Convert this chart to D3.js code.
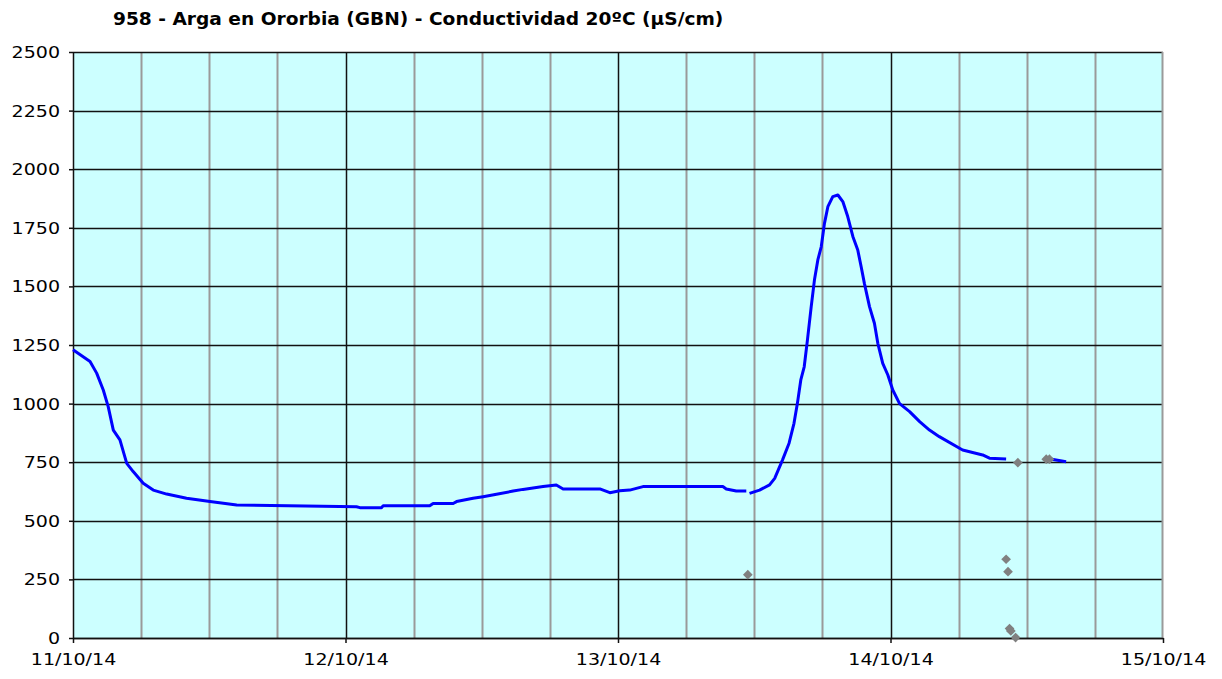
<!DOCTYPE html>
<html>
<head>
<meta charset="utf-8">
<script src="https://cdn.jsdelivr.net/npm/d3@7"></script>
<style>
  body { margin: 0; background: #fff; }
  text { font-family: "DejaVu Sans", Verdana, sans-serif; fill: #000; }
</style>
</head>
<body>
<div id="chart"></div>
<script>
// conductivity series, null = gap in the record
const lineTimes = [
  "2014-10-11 00:00", "2014-10-11 01:30", "2014-10-11 02:05", "2014-10-11 02:40", "2014-10-11 03:06",
  "2014-10-11 03:33", "2014-10-11 04:08", "2014-10-11 04:44", "2014-10-11 05:18", "2014-10-11 06:11",
  "2014-10-11 07:04", "2014-10-11 08:15", "2014-10-11 10:00", "2014-10-11 12:04", "2014-10-11 14:25",
  "2014-10-12 00:58", "2014-10-12 01:16", "2014-10-12 03:10", "2014-10-12 03:19", "2014-10-12 07:25",
  "2014-10-12 07:43", "2014-10-12 09:29", "2014-10-12 09:47", "2014-10-12 11:14", "2014-10-12 12:07",
  "2014-10-12 13:18", "2014-10-12 14:46", "2014-10-12 15:38", "2014-10-12 17:24", "2014-10-12 18:34",
  "2014-10-12 19:10", "2014-10-12 22:24", "2014-10-12 23:17", "2014-10-13 00:09", "2014-10-13 01:02",
  "2014-10-13 02:12", "2014-10-13 09:14", "2014-10-13 09:32", "2014-10-13 10:25", "2014-10-13 11:18",
  "2014-10-13 11:26",
  "2014-10-13 11:35", "2014-10-13 12:28", "2014-10-13 13:21", "2014-10-13 13:48", "2014-10-13 14:29",
  "2014-10-13 15:04", "2014-10-13 15:30", "2014-10-13 15:48", "2014-10-13 16:06", "2014-10-13 16:24",
  "2014-10-13 16:41", "2014-10-13 17:01", "2014-10-13 17:18", "2014-10-13 17:36", "2014-10-13 17:54",
  "2014-10-13 18:11", "2014-10-13 18:29", "2014-10-13 18:55", "2014-10-13 19:22", "2014-10-13 19:48",
  "2014-10-13 20:14", "2014-10-13 20:41", "2014-10-13 21:07", "2014-10-13 21:25", "2014-10-13 21:42",
  "2014-10-13 22:09", "2014-10-13 22:35", "2014-10-13 22:53", "2014-10-13 23:19", "2014-10-13 23:46",
  "2014-10-14 00:12", "2014-10-14 00:48", "2014-10-14 01:41", "2014-10-14 02:34", "2014-10-14 03:26",
  "2014-10-14 04:18", "2014-10-14 06:21", "2014-10-14 08:07", "2014-10-14 08:43", "2014-10-14 10:11",
  "2014-10-14 12:00",
  "2014-10-14 13:43", "2014-10-14 15:28"
];
const lineValues = [
  1230, 1180, 1130, 1058, 987,
  887, 845, 745, 710, 660,
  631, 614, 596, 582, 567,
  560, 556, 556, 564, 564,
  574, 574, 582, 596, 603,
  613, 627, 634, 646, 653,
  636, 636, 620, 628, 631,
  646, 646, 636, 627, 627,
  null,
  617, 631, 653, 681, 759,
  831, 916, 1001, 1101, 1157,
  1271, 1414, 1527, 1613, 1669,
  1769, 1840, 1883, 1890, 1862,
  1798, 1713, 1655, 1584, 1513,
  1414, 1343, 1257, 1172, 1122,
  1058, 1000, 966, 923, 887,
  859, 802, 781, 767, 764,
  null,
  767, 752
];

// isolated readings (grey diamonds)
const pointTimes = [
  "2014-10-13 11:26", "2014-10-14 10:11", "2014-10-14 10:21", "2014-10-14 10:29",
  "2014-10-14 10:36", "2014-10-14 11:01", "2014-10-14 11:13", "2014-10-14 13:43", "2014-10-14 14:00"
];
const pointValues = [270, 336, 283, 40, 30, 2, 748, 763, 763];

const yTicks = [0, 250, 500, 750, 1000, 1250, 1500, 1750, 2000, 2250, 2500];
const dayTicks = ["2014-10-11", "2014-10-12", "2014-10-13", "2014-10-14", "2014-10-15"];

const parseTime = d3.timeParse("%Y-%m-%d %H:%M");
const parseDay = d3.timeParse("%Y-%m-%d");

const width = 1222;
const height = 679;
const margin = { top: 52, right: 59, bottom: 41, left: 73 };
const innerWidth = width - margin.left - margin.right;
const innerHeight = height - margin.top - margin.bottom;
const stretchX = 1.27;

const svg = d3.select("#chart")
  .append("svg")
  .attr("width", width)
  .attr("height", height);

const days = dayTicks.map(parseDay);

const xScale = d3.scaleTime()
  .domain([days[0], days[days.length - 1]])
  .range([0, innerWidth]);

const yScale = d3.scaleLinear()
  .domain([0, 2500])
  .range([innerHeight, 0]);

const chart = svg.append("g")
  .attr("transform", `translate(${margin.left}, ${margin.top})`);

chart.append("rect")
  .attr("width", innerWidth)
  .attr("height", innerHeight)
  .attr("fill", "#ccffff");

// 6-hour grid (grey) then day grid (black)
const sixHours = d3.timeHour.every(6).range(days[0], days[days.length - 1]);
chart.append("g")
  .selectAll("line")
  .data(sixHours.filter(d => d.getHours() !== 0))
  .join("line")
    .attr("x1", d => Math.round(xScale(d)) + 0.5)
    .attr("x2", d => Math.round(xScale(d)) + 0.5)
    .attr("y1", 0)
    .attr("y2", innerHeight)
    .attr("stroke", "#9a9a9a")
    .attr("stroke-width", 2);

chart.append("g")
  .selectAll("line")
  .data(yTicks)
  .join("line")
    .attr("x1", 0)
    .attr("x2", innerWidth)
    .attr("y1", d => Math.round(yScale(d)) + 0.5)
    .attr("y2", d => Math.round(yScale(d)) + 0.5)
    .attr("stroke", "#111")
    .attr("stroke-width", 1.5);

chart.append("g")
  .selectAll("line")
  .data(days.slice(1, -1))
  .join("line")
    .attr("x1", d => Math.round(xScale(d)) + 0.5)
    .attr("x2", d => Math.round(xScale(d)) + 0.5)
    .attr("y1", 0)
    .attr("y2", innerHeight)
    .attr("stroke", "#111")
    .attr("stroke-width", 1.5);

chart.append("line")
  .attr("x1", innerWidth - 0.5).attr("x2", innerWidth - 0.5)
  .attr("y1", 0).attr("y2", innerHeight)
  .attr("stroke", "#9a9a9a")
  .attr("stroke-width", 2);

// axes
const yAxis = chart.append("g")
  .call(d3.axisLeft(yScale).tickValues(yTicks).tickSize(4).tickSizeOuter(0).tickPadding(9)
    .tickFormat(d3.format("d")));

const xAxis = chart.append("g")
  .attr("transform", `translate(0, ${innerHeight})`)
  .call(d3.axisBottom(xScale).tickValues(days).tickSize(5).tickSizeOuter(0).tickPadding(11)
    .tickFormat(d3.timeFormat("%d/%m/%y")));

[yAxis, xAxis].forEach(ax => {
  ax.select(".domain").attr("stroke", "#111").attr("stroke-width", 1.5);
  ax.selectAll(".tick line").attr("stroke", "#111").attr("stroke-width", 1.5);
  ax.selectAll("text")
    .attr("font-family", "DejaVu Sans, Verdana, sans-serif")
    .attr("font-size", "15px")
    .attr("fill", "#111");
});
yAxis.selectAll("text").attr("dy", "0.36em");

// series line
const line = d3.line()
  .defined(d => d.value !== null)
  .x(d => xScale(d.time))
  .y(d => yScale(d.value));

const lineData = lineTimes.map((t, i) => ({ time: parseTime(t), value: lineValues[i] }));

chart.append("path")
  .datum(lineData)
  .attr("fill", "none")
  .attr("stroke", "#0000ff")
  .attr("stroke-width", 3)
  .attr("stroke-linejoin", "round")
  .attr("d", line);

const pointData = pointTimes.map((t, i) => ({ time: parseTime(t), value: pointValues[i] }));

chart.selectAll(".pt")
  .data(pointData)
  .join("path")
    .attr("class", "pt")
    .attr("d", d3.symbol(d3.symbolDiamond2, 60))
    .attr("transform", d => `translate(${xScale(d.time)}, ${yScale(d.value)})`)
    .attr("fill", "#808080");

// title
svg.append("text")
  .attr("class", "title")
  .attr("x", 113)
  .attr("y", 25)
  .attr("font-size", "17.5px")
  .attr("font-weight", "bold")
  .attr("fill", "#111")
  .text("958 - Arga en Ororbia (GBN) - Conductividad 20ºC (µS/cm)");

// widen glyphs horizontally to match the stretched original
svg.selectAll("text").each(function () {
  const t = d3.select(this);
  const x = +t.attr("x") || 0;
  let k = stretchX;
  if (t.classed("title")) k = 611 / this.getComputedTextLength();
  t.attr("x", x / k).attr("transform", `scale(${k}, 1)`);
});
</script>
</body>
</html>
